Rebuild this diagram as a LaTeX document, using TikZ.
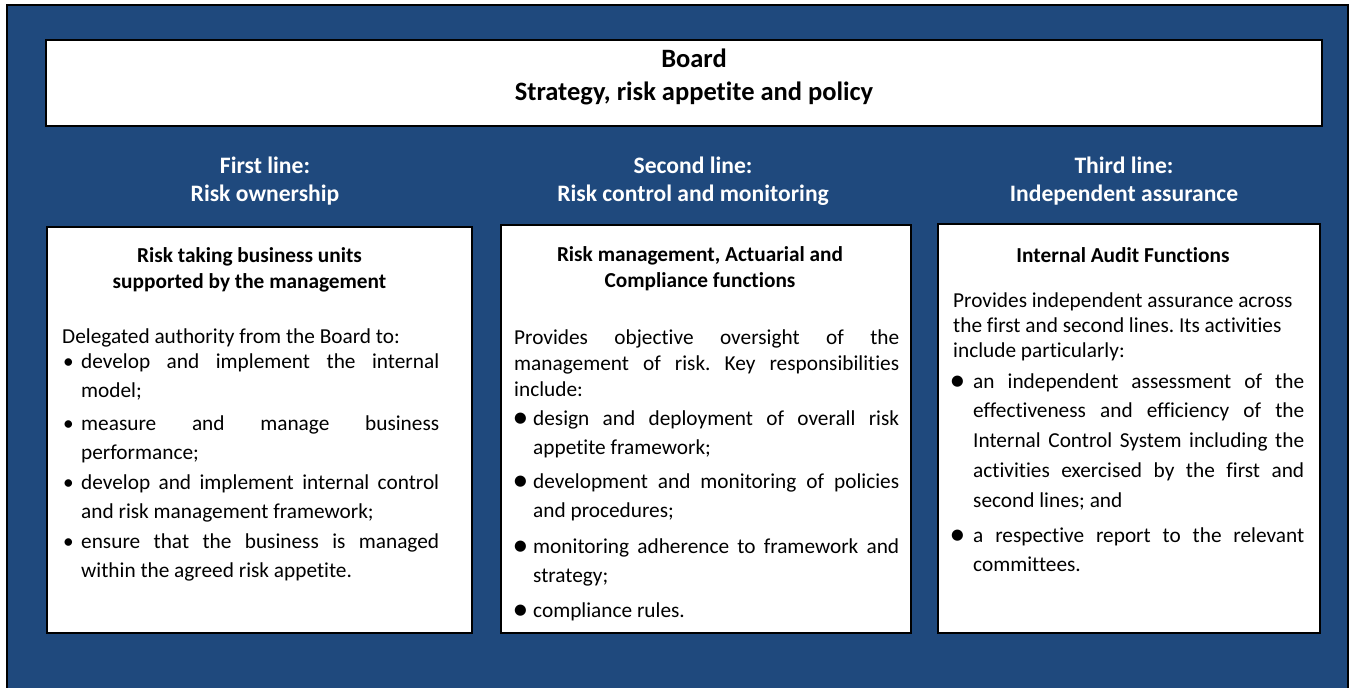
\documentclass[tikz,border=0pt]{standalone}
\usepackage{fontspec}
\setmainfont[Ligatures=NoCommon]{Carlito}
\definecolor{boardblue}{HTML}{1F497D}
% fonts: size / baseline skip
\newcommand{\boardfont}{\fontsize{26.5pt}{33pt}\selectfont\bfseries}
\newcommand{\headfont}{\fontsize{23.6pt}{28pt}\selectfont\bfseries}
\newcommand{\titlefont}{\fontsize{21.3pt}{26pt}\selectfont\bfseries}
\newcommand{\introfont}{\fontsize{21.3pt}{26pt}\selectfont\frenchspacing}
\newcommand{\itemfont}{\fontsize{21.3pt}{29.7pt}\selectfont\frenchspacing}
% every text node hangs from a strut 24pt above its first baseline
\newcommand{\firststrut}{\rule{0pt}{24pt}}
\newcommand{\nohyph}{\hyphenpenalty=10000 \exhyphenpenalty=10000 \tolerance=10000 }
% bullet paragraph: #1 hanging indent, #2 bullet glyph, #3 text
\newcommand{\bul}[3]{\noindent\nohyph\hangindent=#1\hangafter=1\firststrut\makebox[#1][l]{#2}#3\par}
\newcommand{\smallbul}{\textbullet}
\newcommand{\bigbul}{\hspace*{-1.5pt}\raisebox{-2.3pt}{\scalebox{1.48}{\textbullet}}}
\begin{document}
\begin{tikzpicture}[x=1pt,y=-1pt,
  panel/.style={draw=black, line width=1.5pt, fill=white, anchor=north west, inner sep=0pt},
  head/.style={text=white, font=\headfont, align=center, anchor=north, inner sep=0pt},
  boxtitle/.style={text=black, font=\titlefont, align=center, anchor=north, inner sep=0pt},
  intro/.style={font=\introfont, anchor=north west, inner sep=0pt, align=justify},
  entry/.style={font=\itemfont, anchor=north west, inner sep=0pt, align=justify}]
\useasboundingbox (0,0) rectangle (1355,688);
\fill[white] (0,0) rectangle (1355,688);
% blue frame, open towards the bottom edge
\fill[boardblue] (7,5) rectangle (1348,700);
\draw[line width=2.5pt] (7,700) -- (7,5) -- (1348,5) -- (1348,700);

% board
\node[panel, minimum width=1276pt, minimum height=86pt] (board) at (45,39) {};
\node[font=\boardfont, align=center, anchor=north, inner sep=0pt] (boardtext) at (694,43)
  {\firststrut Board\\Strategy, risk appetite and policy};

% line headings
\node[head] (h1) at (265,149) {\firststrut First line:\\Risk ownership};
\node[head] (h2) at (693,149) {\firststrut Second line:\\Risk control and monitoring};
\node[head] (h3) at (1124,149) {\firststrut Third line:\\Independent assurance};

% panels
\node[panel, minimum width=425pt, minimum height=406pt] (b1) at (46,226) {};
\node[panel, minimum width=410pt, minimum height=408pt] (b2) at (500,224) {};
\node[panel, minimum width=382pt, minimum height=409pt] (b3) at (937,223) {};

% first line
\node[boxtitle] (t1) at (249.5,238) {\firststrut Risk taking business units\\supported by the management};
\node[intro, text width=377pt] (p1) at (62,319)
  {\noindent\firststrut Delegated authority from the Board to:\par};
\node[entry, text width=376pt] (p1a) at (63,344)
  {\bul{18pt}{\smallbul}{develop and implement the internal\linebreak model;}};
\node[entry, text width=376pt] (p1b) at (63,406)
  {\bul{18pt}{\smallbul}{measure and manage business\linebreak performance;}};
\node[entry, text width=376pt] (p1c) at (63,465)
  {\bul{18pt}{\smallbul}{develop and implement internal control\linebreak and risk management framework;}};
\node[entry, text width=376pt] (p1d) at (63,524)
  {\bul{18pt}{\smallbul}{ensure that the business is managed\linebreak within the agreed risk appetite.}};

% second line
\node[boxtitle] (t2) at (700,237) {\firststrut Risk management, Actuarial and\\Compliance functions};
\node[intro, text width=385pt] (p2) at (514,320)
  {\noindent\nohyph\firststrut Provides objective oversight of the\linebreak management of risk. Key responsibilities\linebreak include:\par};
\node[entry, text width=385pt] (p2a) at (514,401)
  {\bul{19pt}{\bigbul}{design and deployment of overall risk\linebreak appetite framework;}};
\node[entry, text width=385pt] (p2b) at (514,464)
  {\bul{19pt}{\bigbul}{development and monitoring of policies\linebreak and procedures;}};
\node[entry, text width=385pt] (p2c) at (514,529)
  {\bul{19pt}{\bigbul}{monitoring adherence to framework and\linebreak strategy;}};
\node[entry, text width=385pt] (p2d) at (514,593)
  {\bul{19pt}{\bigbul}{compliance rules.}};

% third line
\node[boxtitle] (t3) at (1123,238) {\firststrut Internal Audit Functions};
\node[font=\fontsize{21.3pt}{25pt}\selectfont\frenchspacing, anchor=north west, inner sep=0pt, align=left] (p3) at (953,283)
  {\firststrut Provides independent assurance across\\the first and second lines. Its activities\\include particularly:};
\node[entry, text width=353pt] (p3a) at (951,364)
  {\bul{22pt}{\bigbul}{an independent assessment of the\linebreak effectiveness and efficiency of the\linebreak Internal Control System including the\linebreak activities exercised by the first and\linebreak second lines; and}};
\node[entry, text width=353pt] (p3b) at (951,518)
  {\bul{22pt}{\bigbul}{a respective report to the relevant\linebreak committees.}};
\end{tikzpicture}
\end{document}
